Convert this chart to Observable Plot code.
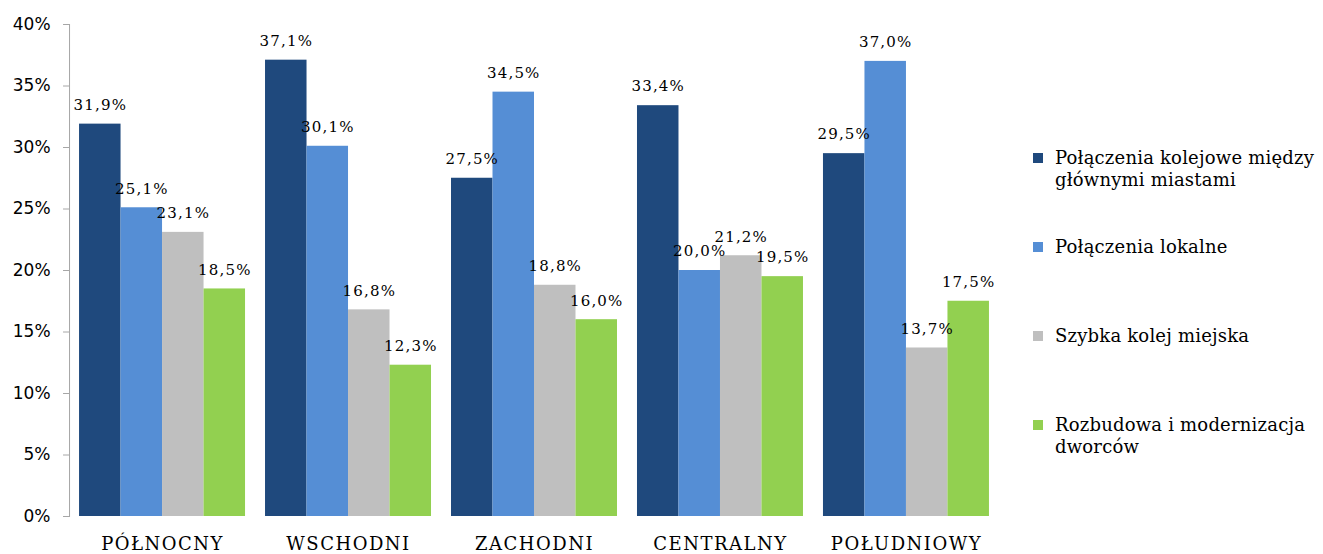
<!DOCTYPE html>
<html>
<head>
<meta charset="utf-8">
<script src="https://cdn.jsdelivr.net/npm/d3@7"></script>
<script src="https://cdn.jsdelivr.net/npm/@observablehq/plot@0.6"></script>
<style>
  html, body { margin: 0; padding: 0; background: #fff; }
  #wrap { position: relative; width: 1323px; height: 554px; }
  #legend { position: absolute; left: 1033px; top: 0; font-family: "DejaVu Serif", serif; font-size: 18px; letter-spacing: 0.2px; color: #000; }
  .item { position: absolute; left: 0; width: 292px; line-height: 22px; }
  .swatch { position: absolute; left: 0; top: 6px; width: 10px; height: 10px; }
  .label { margin-left: 22px; width: 272px; }
</style>
</head>
<body>
<div id="wrap"><div id="legend"></div></div>
<script>
// Regions (facets) and investment categories (series)
const regions = ["PÓŁNOCNY", "WSCHODNI", "ZACHODNI", "CENTRALNY", "POŁUDNIOWY"];
const series = [
  "Połączenia kolejowe między głównymi miastami",
  "Połączenia lokalne",
  "Szybka kolej miejska",
  "Rozbudowa i modernizacja dworców"
];
const colors = ["#1F497D", "#558ED5", "#BFBFBF", "#92D050"];

// Shares in percent, one array per series, ordered as regions
const intercity = [31.9, 37.1, 27.5, 33.4, 29.5];
const local = [25.1, 30.1, 34.5, 20.0, 37.0];
const urbanRail = [23.1, 16.8, 18.8, 21.2, 13.7];
const stations = [18.5, 12.3, 16.0, 19.5, 17.5];

const yTicks = [0, 5, 10, 15, 20, 25, 30, 35, 40];

const seriesValues = [intercity, local, urbanRail, stations];
const data = regions.flatMap((region, i) =>
  series.map((s, j) => ({region, series: s, value: seriesValues[j][i]}))
);

const pct = v => v.toFixed(1).replace(".", ",") + "%";

const chart = Plot.plot({
  width: 1323,
  height: 554,
  marginLeft: 69,
  marginRight: 324,
  marginTop: 24,
  marginBottom: 38,
  style: {background: "transparent", overflow: "visible"},
  fx: {domain: regions, paddingInner: 0.1075, paddingOuter: 0.054, round: false, label: null},
  x: {domain: series, axis: null, padding: 0, round: false},
  y: {domain: [0, 40], label: null},
  color: {domain: series, range: colors},
  marks: [
    Plot.frame({anchor: "left", facetAnchor: "left", dx: -10, stroke: "#A6A6A6"}),
    Plot.axisY({
      ticks: yTicks,
      tickFormat: d => d + "%",
      tickSize: 6,
      tickPadding: 13,
      dx: -10,
      stroke: "#A6A6A6",
      fill: "#000",
      fontFamily: "DejaVu Sans",
      fontSize: 17,
      label: null
    }),
    Plot.axisFx({
      anchor: "bottom",
      tickSize: 0,
      tickPadding: 21,
      fontFamily: "DejaVu Serif",
      fontSize: 18,
      fill: "#000",
      label: null
    }),
    Plot.barY(data, {fx: "region", x: "series", y: "value", fill: "series"}),
    Plot.text(data, {
      fx: "region",
      x: "series",
      y: "value",
      text: d => pct(d.value),
      dy: -19,
      fontFamily: "DejaVu Serif",
      fontSize: 15,
      fill: "#000"
    })
  ]
});

chart.querySelectorAll("[aria-label='fx-axis tick label'] text").forEach(t => {
  t.style.letterSpacing = "1.5px";
});
chart.querySelectorAll("[aria-label='text'] text").forEach(t => {
  t.style.letterSpacing = "1.2px";
});

document.getElementById("wrap").prepend(chart);

// Legend to the right of the bars
const legend = document.getElementById("legend");
series.forEach((s, i) => {
  const item = document.createElement("div");
  item.className = "item";
  item.style.top = (147 + i * 89) + "px";
  item.innerHTML = `<div class="swatch" style="background:${colors[i]}"></div><div class="label">${s}</div>`;
  legend.appendChild(item);
});
</script>
</body>
</html>
